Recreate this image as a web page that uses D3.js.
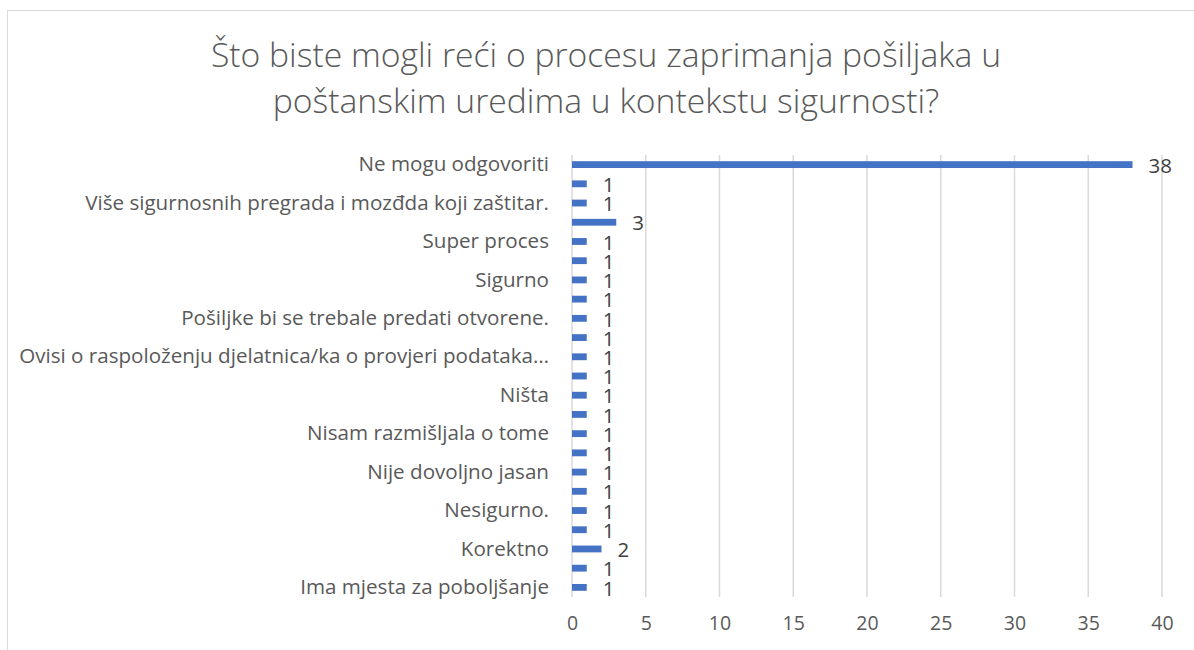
<!DOCTYPE html>
<html>
<head>
<meta charset="utf-8">
<script src="https://cdn.jsdelivr.net/npm/d3@7"></script>
<style>
  body { margin: 0; background: #fff; }
  text { font-family: "Open Sans", sans-serif; }
</style>
</head>
<body>
<div id="chart"></div>
<script>
// answers, top to bottom (null = label hidden by the axis in the original)
const categories = [
  "Ne mogu odgovoriti", null,
  "Više sigurnosnih pregrada i mozđda koji zaštitar.", null,
  "Super proces", null,
  "Sigurno", null,
  "Pošiljke bi se trebale predati otvorene.", null,
  "Ovisi o raspoloženju djelatnica/ka o provjeri podataka…", null,
  "Ništa", null,
  "Nisam razmišljala o tome", null,
  "Nije dovoljno jasan", null,
  "Nesigurno.", null,
  "Korektno", null,
  "Ima mjesta za poboljšanje"
];
const counts = [38, 1, 1, 3, 1, 1, 1, 1, 1, 1, 1, 1, 1, 1, 1, 1, 1, 1, 1, 1, 2, 1, 1];
const xTicks = [0, 5, 10, 15, 20, 25, 30, 35, 40];
const titleLines = [
  "Što biste mogli reći o procesu zaprimanja pošiljaka u",
  "poštanskim uredima u kontekstu sigurnosti?"
];

const W = 1194, H = 650;
const plot = {left: 572, right: 1162, top: 155, bottom: 597};

const svg = d3.select("#chart").append("svg")
    .attr("width", W)
    .attr("height", H);

// chart frame
svg.append("rect")
    .attr("x", 7.5).attr("y", 10.5)
    .attr("width", W + 10).attr("height", H + 10)
    .attr("fill", "#fff")
    .attr("stroke", "#d9d9d9");

// title
svg.append("g").selectAll("text")
    .data(titleLines)
    .enter().append("text")
    .attr("x", 606)
    .attr("y", (d, i) => 67 + i * 46)
    .attr("text-anchor", "middle")
    .attr("font-size", 33.7)
    .attr("font-weight", 300)
    .attr("fill", "#595959")
    .text(d => d);

const x = d3.scaleLinear()
    .domain([0, 40])
    .range([plot.left, plot.right]);

const y = d3.scaleBand()
    .domain(d3.range(categories.length))
    .range([plot.top, plot.bottom])
    .paddingInner(0.645)
    .paddingOuter(0.3225);

// gridlines
svg.append("g").selectAll("line")
    .data(xTicks)
    .enter().append("line")
    .attr("x1", d => x(d)).attr("x2", d => x(d))
    .attr("y1", plot.top).attr("y2", plot.bottom)
    .attr("stroke", "#d9d9d9")
    .attr("stroke-width", 1.5);

// x axis labels
const xAxis = svg.append("g")
    .attr("transform", `translate(0,${plot.bottom})`)
    .call(d3.axisBottom(x).tickValues(xTicks).tickSize(0).tickPadding(19));
xAxis.select(".domain").remove();
xAxis.selectAll("text")
    .attr("font-family", "Open Sans, sans-serif")
    .attr("font-size", 19.5)
    .attr("fill", "#595959");

// category labels
const yAxis = svg.append("g")
    .attr("transform", `translate(${plot.left},0)`)
    .call(d3.axisLeft(y).tickSize(0).tickPadding(23)
        .tickFormat(i => categories[i] || ""));
yAxis.select(".domain").remove();
yAxis.selectAll("text")
    .attr("font-family", "Open Sans, sans-serif")
    .attr("font-size", 20.6)
    .attr("fill", "#595959");

// bars
svg.append("g").selectAll("rect")
    .data(counts)
    .enter().append("rect")
    .attr("x", x(0))
    .attr("y", (d, i) => y(i))
    .attr("width", d => x(d) - x(0))
    .attr("height", y.bandwidth())
    .attr("fill", "#4472c4");

// value labels
svg.append("g").selectAll("text")
    .data(counts)
    .enter().append("text")
    .attr("x", d => x(d) + 16)
    .attr("y", (d, i) => y(i) + y.bandwidth() / 2 + 1)
    .attr("dy", "0.35em")
    .attr("font-size", 20.5)
    .attr("fill", "#404040")
    .text(d => d);
</script>
</body>
</html>
